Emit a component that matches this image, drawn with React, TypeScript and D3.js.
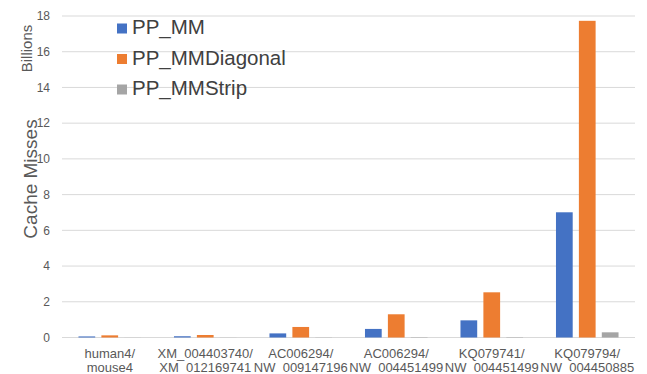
import React from "react";
import * as d3 from "d3";

const categories: string[][] = [
  ["human4/", "mouse4"],
  ["XM_004403740/", "XM_012169741"],
  ["AC006294/", "NW_009147196"],
  ["AC006294/", "NW_004451499"],
  ["KQ079741/", "NW_004451499"],
  ["KQ079794/", "NW_004450885"],
];
const seriesNames = ["PP_MM", "PP_MMDiagonal", "PP_MMStrip"];
const ppMM = [0.06, 0.07, 0.23, 0.48, 0.96, 7.01];
const ppMMDiagonal = [0.12, 0.14, 0.59, 1.3, 2.53, 17.73];
const ppMMStrip = [0.004, 0.005, 0.01, 0.02, 0.02, 0.29];
const yTicks = [0, 2, 4, 6, 8, 10, 12, 14, 16, 18];
const colors = ["#4472C4", "#ED7D31", "#A5A5A5"];

const W = 647;
const H = 374;
const plot = { left: 62, right: 635, top: 16, bottom: 337.5 };

export default function App() {
  const series = [ppMM, ppMMDiagonal, ppMMStrip];
  const x0 = d3
    .scaleBand<number>()
    .domain(categories.map((_, i) => i))
    .range([plot.left, plot.right])
    .paddingInner(0.345)
    .paddingOuter(0.1725);
  const x1 = d3
    .scaleBand<number>()
    .domain([0, 1, 2])
    .range([0, x0.bandwidth()])
    .paddingInner(0.27);
  const y = d3.scaleLinear().domain([0, 18]).range([plot.bottom, plot.top]);
  const font = "'Liberation Sans', Arial, sans-serif";
  const step = (plot.right - plot.left) / categories.length;

  return (
    <svg
      width={W}
      height={H}
      style={{ position: "absolute", left: 0, top: 0, background: "#fff" }}
      fontFamily={font}
    >
      {yTicks.map((t) => (
        <g key={t}>
          <line
            x1={plot.left}
            x2={plot.right}
            y1={y(t)}
            y2={y(t)}
            stroke="#D9D9D9"
            strokeWidth={1}
          />
          <text
            x={50}
            y={y(t)}
            dy="0.35em"
            textAnchor="end"
            fontSize={12}
            fill="#595959"
          >
            {t}
          </text>
        </g>
      ))}
      {series.map((vals, s) =>
        vals.map((v, i) => (
          <rect
            key={`${s}-${i}`}
            x={x0(i)! + x1(s)!}
            y={y(v)}
            width={x1.bandwidth()}
            height={Math.max(0, plot.bottom - y(v))}
            fill={colors[s]}
          />
        ))
      )}
      {categories.map((lines, i) => {
        const cx = plot.left + step * (i + 0.5);
        return (
          <text
            key={i}
            x={cx}
            textAnchor="middle"
            fontSize={13}
            fill="#595959"
          >
            <tspan x={cx} y={357.5}>
              {lines[0]}
            </tspan>
            <tspan x={cx} y={372}>
              {lines[1]}
            </tspan>
          </text>
        );
      })}
      <text
        transform="translate(32,48.5) rotate(-90)"
        textAnchor="middle"
        fontSize={15}
        fill="#595959"
      >
        Billions
      </text>
      <text
        transform="translate(37,179) rotate(-90)"
        textAnchor="middle"
        fontSize={19}
        fill="#595959"
      >
        Cache Misses
      </text>
      {seriesNames.map((name, s) => {
        const base = 34 + s * 30.5;
        return (
          <g key={name}>
            <rect x={117} y={base - 10.5} width={10} height={10} fill={colors[s]} />
            <text x={132} y={base} fontSize={20.5} fill="#404040">
              {name}
            </text>
          </g>
        );
      })}
    </svg>
  );
}
